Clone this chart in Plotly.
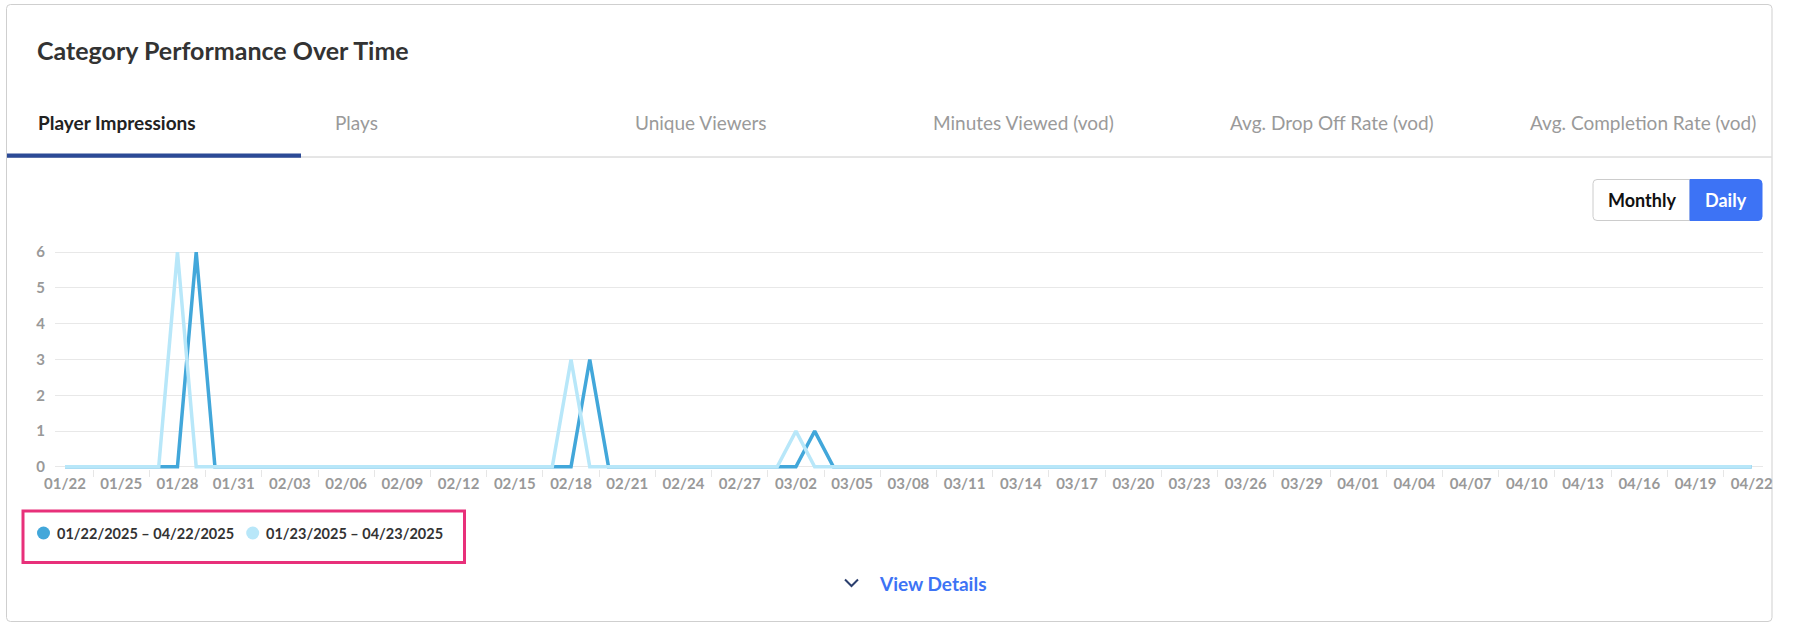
import plotly.graph_objects as go
import pandas as pd

# ---------------- data ----------------
start_date = "2025-01-22"
end_date = "2025-04-22"
dates = pd.date_range(start_date, end_date, freq="D")

series_names = ["01/22/2025 – 04/22/2025", "01/23/2025 – 04/23/2025"]

current_values = [
    0, 0, 0, 0, 0, 0, 0, 6, 0, 0,
    0, 0, 0, 0, 0, 0, 0, 0, 0, 0,
    0, 0, 0, 0, 0, 0, 0, 0, 3, 0,
    0, 0, 0, 0, 0, 0, 0, 0, 0, 0,
    1, 0, 0, 0, 0, 0, 0, 0, 0, 0,
    0, 0, 0, 0, 0, 0, 0, 0, 0, 0,
    0, 0, 0, 0, 0, 0, 0, 0, 0, 0,
    0, 0, 0, 0, 0, 0, 0, 0, 0, 0,
    0, 0, 0, 0, 0, 0, 0, 0, 0, 0,
    0,
]
previous_values = [
    0, 0, 0, 0, 0, 0, 6, 0, 0, 0,
    0, 0, 0, 0, 0, 0, 0, 0, 0, 0,
    0, 0, 0, 0, 0, 0, 0, 3, 0, 0,
    0, 0, 0, 0, 0, 0, 0, 0, 0, 1,
    0, 0, 0, 0, 0, 0, 0, 0, 0, 0,
    0, 0, 0, 0, 0, 0, 0, 0, 0, 0,
    0, 0, 0, 0, 0, 0, 0, 0, 0, 0,
    0, 0, 0, 0, 0, 0, 0, 0, 0, 0,
    0, 0, 0, 0, 0, 0, 0, 0, 0, 0,
    0,
]
y_ticks = [0, 1, 2, 3, 4, 5, 6]
tabs = ["Player Impressions", "Plays", "Unique Viewers", "Minutes Viewed (vod)",
        "Avg. Drop Off Rate (vod)", "Avg. Completion Rate (vod)"]

# ---------------- style ----------------
FONT = "Lato, 'Open Sans', sans-serif"
DARK = "#42a7da"
LIGHT = "#b8e7f9"
W_FIG, H_FIG = 1793, 624
L, R, T, B = 55, 1763, 250, 469


def fx(x):
    return (x - L) / (R - L)


def fy(y):
    return (B - y) / (B - T)


def rrect_path(x0, y0, x1, y1, r, corners=(True, True, True, True)):
    tl, tr, br, bl = corners
    rx = r / (R - L)
    ry = r / (B - T)
    X0, X1, Y0, Y1 = fx(x0), fx(x1), fy(y0), fy(y1)  # Y0 top (larger), Y1 bottom
    p = []
    p.append(f"M {X0 + (rx if tl else 0)} {Y0}")
    p.append(f"L {X1 - (rx if tr else 0)} {Y0}")
    if tr:
        p.append(f"Q {X1} {Y0} {X1} {Y0 - ry}")
    p.append(f"L {X1} {Y1 + (ry if br else 0)}")
    if br:
        p.append(f"Q {X1} {Y1} {X1 - rx} {Y1}")
    p.append(f"L {X0 + (rx if bl else 0)} {Y1}")
    if bl:
        p.append(f"Q {X0} {Y1} {X0} {Y1 + ry}")
    p.append(f"L {X0} {Y0 - (ry if tl else 0)}")
    if tl:
        p.append(f"Q {X0} {Y0} {X0 + rx} {Y0}")
    p.append("Z")
    return " ".join(p)


fig = go.Figure()
fig.add_trace(go.Scatter(x=dates, y=current_values, mode="lines", name=series_names[0],
                         line=dict(color=DARK, width=3.5), showlegend=False))
fig.add_trace(go.Scatter(x=dates, y=previous_values, mode="lines", name=series_names[1],
                         line=dict(color=LIGHT, width=3.5), showlegend=False))

day = pd.Timedelta(days=1)
x_start = pd.Timestamp(start_date) - 0.534 * day
x_end = pd.Timestamp(end_date) + 0.6 * day

fig.update_xaxes(
    type="date",
    range=[x_start, x_end],
    tick0=start_date,
    dtick=3 * 86400000,
    tickformat="%m/%d",
    ticks="",
    showgrid=False,
    zeroline=False,
    showline=False,
    tickfont=dict(family=FONT, size=15, color="#999999", weight="bold"),
    ticklabelstandoff=4,
    minor=dict(ticks="outside", tick0=pd.Timestamp(start_date) + 1.5 * day,
               dtick=3 * 86400000, ticklen=7, tickcolor="#e6e6e6", tickwidth=1,
               showgrid=False),
)
fig.update_yaxes(
    range=[-0.06, 6.06],
    tickvals=y_ticks,
    showgrid=True,
    gridcolor="#e8e8e8",
    gridwidth=1,
    zeroline=False,
    showline=False,
    ticks="",
    tickfont=dict(family=FONT, size=15, color="#999999", weight="bold"),
    ticklabelstandoff=9,
)

shapes = []
# card
shapes.append(dict(type="path", xref="paper", yref="paper", layer="below",
                   path=rrect_path(6.5, 4.5, 1772, 621.5, 4),
                   line=dict(color="#cfcfcf", width=1), fillcolor="white"))
# tab separator
shapes.append(dict(type="line", xref="paper", yref="paper",
                   x0=fx(7), x1=fx(1771.5), y0=fy(157), y1=fy(157),
                   line=dict(color="#cccccc", width=1)))
# active tab underline
shapes.append(dict(type="rect", xref="paper", yref="paper",
                   x0=fx(7), x1=fx(301), y0=fy(153.5), y1=fy(157.8),
                   line=dict(width=0), fillcolor="#2c4a96"))
# Monthly / Daily buttons
shapes.append(dict(type="path", xref="paper", yref="paper",
                   path=rrect_path(1593, 179.5, 1690, 220.5, 4, (True, False, False, True)),
                   line=dict(color="#cccccc", width=1), fillcolor="white"))
shapes.append(dict(type="path", xref="paper", yref="paper",
                   path=rrect_path(1690, 179.5, 1762, 220.5, 4, (False, True, True, False)),
                   line=dict(color="#3d73f5", width=1), fillcolor="#3d73f5"))
# highlight box around legend
shapes.append(dict(type="rect", xref="paper", yref="paper",
                   x0=fx(23), x1=fx(464.5), y0=fy(511), y1=fy(562.5),
                   line=dict(color="#e8307a", width=3), fillcolor="rgba(0,0,0,0)"))
# legend dots
for cx, col in [(43.5, DARK), (252.7, LIGHT)]:
    shapes.append(dict(type="circle", xref="paper", yref="paper",
                       x0=fx(cx - 6.5), x1=fx(cx + 6.5), y0=fy(533 - 6.5), y1=fy(533 + 6.5),
                       line=dict(width=0), fillcolor=col))
# chevron
shapes.append(dict(type="path", xref="paper", yref="paper",
                   path=f"M {fx(845)} {fy(579.5)} L {fx(851.5)} {fy(586)} L {fx(858)} {fy(579.5)}",
                   line=dict(color="#2b3f6e", width=2)))

annotations = []


def text(x, y, s, size, color, weight="normal", anchor="left"):
    annotations.append(dict(xref="paper", yref="paper", x=fx(x), y=fy(y), text=s,
                            showarrow=False, xanchor=anchor, yanchor="middle",
                            font=dict(family=FONT, size=size, color=color, weight=weight)))


text(35, 50.5, "Category Performance Over Time", 25, "#333333", "bold")
tab_x = [35.5, 333, 632.5, 931, 1228, 1528]
for i, (tx, name) in enumerate(zip(tab_x, tabs)):
    if i == 0:
        text(tx, 122.5, name, 19, "#222222", "bold")
    else:
        text(tx, 122.5, name, 19, "#9a9a9a")
text(1641.5, 200, "Monthly", 18, "#111111", "bold", "center")
text(1726, 200, "Daily", 18, "#ffffff", "bold", "center")
text(55, 533, series_names[0], 14.5, "#333333", "bold")
text(264, 533, series_names[1], 14.5, "#333333", "bold")
text(877, 583, "View Details", 19, "#3d73f5", "bold")

fig.update_layout(
    width=W_FIG, height=H_FIG,
    autosize=False,
    margin=dict(l=L, r=W_FIG - R, t=T, b=H_FIG - B, pad=0),
    paper_bgcolor="white",
    plot_bgcolor="rgba(0,0,0,0)",
    font=dict(family=FONT),
    shapes=shapes,
    annotations=annotations,
    showlegend=False,
    hovermode=False,
)

fig.write_html("out.html", config={"displayModeBar": False},
               post_script="document.body.style.margin='0';document.body.style.overflow='hidden';")
